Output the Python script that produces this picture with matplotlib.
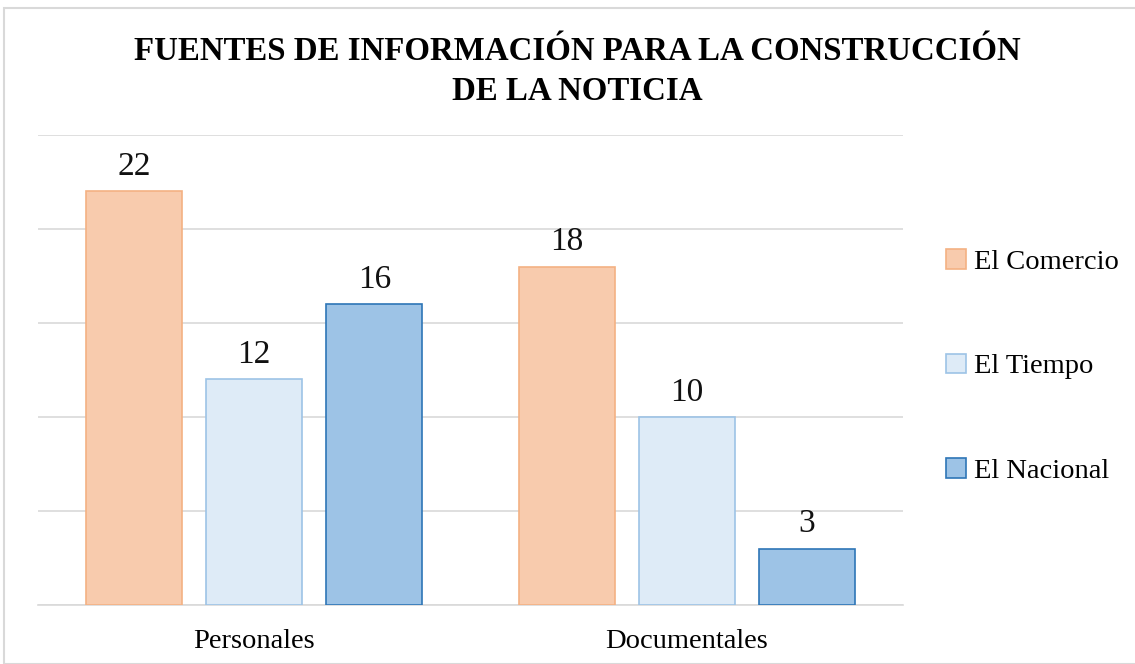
import matplotlib
matplotlib.use("Agg")
import matplotlib.pyplot as plt
import numpy as np
from matplotlib.patches import Rectangle

categories = ["Personales", "Documentales"]
series = ["El Comercio", "El Tiempo", "El Nacional"]
el_comercio = [22, 18]
el_tiempo = [12, 10]
el_nacional = [16, 3]
values = [el_comercio, el_tiempo, el_nacional]
fills = ["#F8CBAD", "#DEEBF7", "#9DC3E6"]
edges = ["#F4B183", "#9DC3E6", "#2E75B6"]

plt.rcParams['font.family'] = ['Liberation Serif', 'DejaVu Serif']

fig = plt.figure(figsize=(11.35, 6.64), dpi=100)
ax = fig.add_axes([38/1135, 1-605/664, (903-38)/1135, (605-135)/664])

x = np.arange(len(categories))
width = 0.222
step = 0.2775
for i, (vals, fc, ec, name) in enumerate(zip(values, fills, edges, series)):
    pos = x + (i - 1) * step
    ax.bar(pos, vals, width, color=fc, edgecolor=ec, linewidth=1.2, label=name, zorder=3)
    for p, v in zip(pos, vals):
        ax.text(p, v + 0.5, str(v), ha='center', va='bottom', fontsize=24, color='#111111')

ax.set_xlim(-0.5, 1.5)
ax.set_ylim(0, 25)
ax.set_yticks([0, 5, 10, 15, 20, 25])
ax.yaxis.grid(True, color='#D9D9D9', linewidth=1.2, zorder=0)
ax.tick_params(axis='y', left=False, labelleft=False)
ax.tick_params(axis='x', bottom=False, labelsize=20.5, pad=14)
ax.set_xticks(x)
ax.set_xticklabels(categories)
for s in ['top', 'right', 'left']:
    ax.spines[s].set_visible(False)
ax.spines['bottom'].set_color('#D9D9D9')
ax.spines['bottom'].set_linewidth(1.2)

leg = fig.legend(loc='center left', bbox_to_anchor=(920/1135, 1-366.5/664), frameon=False,
                 fontsize=20.5, handlelength=0.7, handleheight=0.7, handletextpad=0.3,
                 labelspacing=2.75)

fig.text(577/1135, 1-52/664, "FUENTES DE INFORMACIÓN PARA LA CONSTRUCCIÓN", ha='center', va='center',
         fontsize=23.7, fontweight='bold')
fig.text(577/1135, 1-91/664, "DE LA NOTICIA", ha='center', va='center',
         fontsize=23.7, fontweight='bold')

fig.patches.append(Rectangle((4/1135, 0), 1.0, 1-8/664, transform=fig.transFigure,
                             fill=False, edgecolor='#D9D9D9', linewidth=1.5))

fig.savefig("out.png", dpi=100, facecolor='white')
